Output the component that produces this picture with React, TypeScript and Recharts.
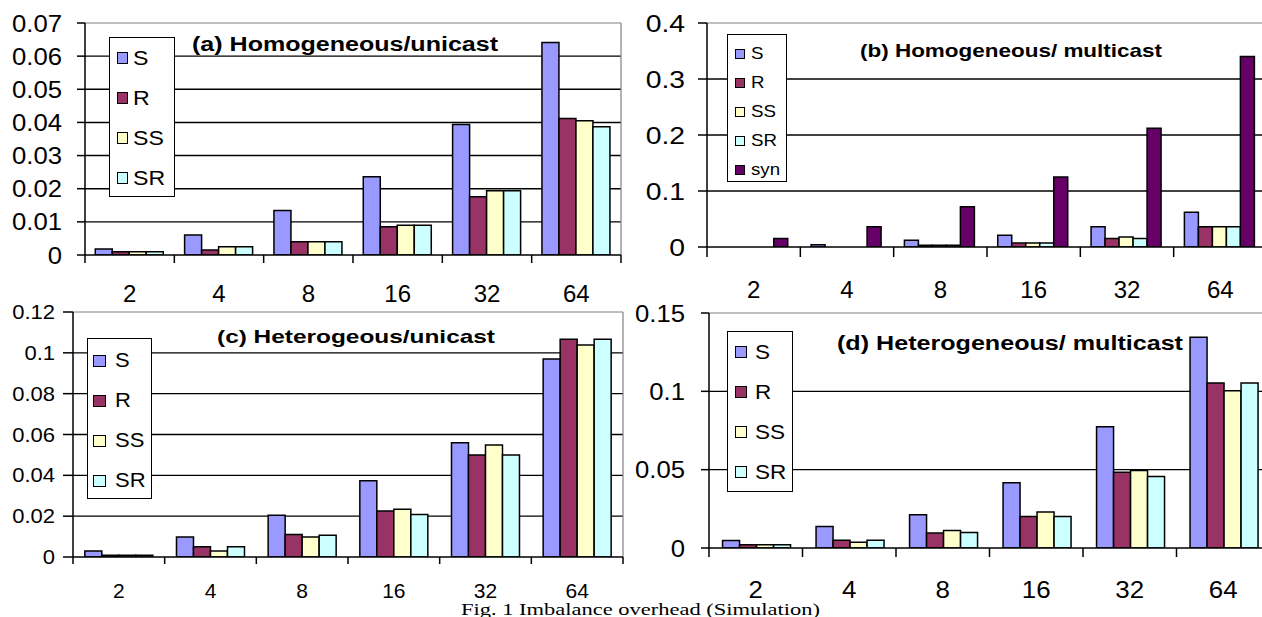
import React from 'react';
import { BarChart, Bar, XAxis, YAxis, CartesianGrid, Legend } from 'recharts';

// ---------- data ----------
const CATEGORIES = ['2', '4', '8', '16', '32', '64'];

// (a) Homogeneous/unicast
const A_S = [0.0018, 0.006, 0.0134, 0.0236, 0.0394, 0.0641];
const A_R = [0.001, 0.0015, 0.004, 0.0085, 0.0176, 0.0412];
const A_SS = [0.001, 0.0025, 0.004, 0.009, 0.0194, 0.0405];
const A_SR = [0.001, 0.0025, 0.004, 0.009, 0.0194, 0.0387];
const A_YTICKS = [0, 0.01, 0.02, 0.03, 0.04, 0.05, 0.06, 0.07];
const A_YLABELS = ['0', '0.01', '0.02', '0.03', '0.04', '0.05', '0.06', '0.07'];

// (b) Homogeneous/ multicast
const B_S = [0, 0.004, 0.012, 0.021, 0.036, 0.062];
const B_R = [0, 0, 0.003, 0.007, 0.015, 0.036];
const B_SS = [0, 0, 0.003, 0.007, 0.018, 0.036];
const B_SR = [0, 0, 0.003, 0.007, 0.015, 0.036];
const B_SYN = [0.015, 0.036, 0.072, 0.125, 0.212, 0.34];
const B_YTICKS = [0, 0.1, 0.2, 0.3, 0.4];
const B_YLABELS = ['0', '0.1', '0.2', '0.3', '0.4'];

// (c) Heterogeous/unicast
const C_S = [0.003, 0.0098, 0.0205, 0.0373, 0.056, 0.097];
const C_R = [0.0008, 0.005, 0.011, 0.0225, 0.05, 0.1067];
const C_SS = [0.0008, 0.003, 0.0098, 0.0234, 0.0548, 0.1038];
const C_SR = [0.0008, 0.005, 0.0106, 0.0208, 0.05, 0.1067];
const C_YTICKS = [0, 0.02, 0.04, 0.06, 0.08, 0.1, 0.12];
const C_YLABELS = ['0', '0.02', '0.04', '0.06', '0.08', '0.1', '0.12'];

// (d) Heterogeneous/ multicast
const D_S = [0.0048, 0.0137, 0.0212, 0.0417, 0.0774, 0.1346];
const D_R = [0.002, 0.005, 0.0095, 0.0201, 0.0483, 0.1053];
const D_SS = [0.002, 0.0036, 0.0112, 0.0229, 0.0495, 0.1003];
const D_SR = [0.002, 0.005, 0.0099, 0.0201, 0.0456, 0.1053];
const D_YTICKS = [0, 0.05, 0.1, 0.15];
const D_YLABELS = ['0', '0.05', '0.1', '0.15'];

const TITLES = [
  '(a) Homogeneous/unicast',
  '(b) Homogeneous/ multicast',
  '(c) Heterogeous/unicast',
  '(d) Heterogeneous/ multicast',
];
const CAPTION = 'Fig. 1 Imbalance overhead (Simulation)';

// ---------- styles ----------
const FONT = '"Liberation Sans", Arial, Helvetica, sans-serif';
const SERIF = '"Liberation Serif", "Times New Roman", serif';

const SERIES4 = [
  { key: 'S', name: 'S', color: '#9999FF' },
  { key: 'R', name: 'R', color: '#993366' },
  { key: 'SS', name: 'SS', color: '#FFFFCC' },
  { key: 'SR', name: 'SR', color: '#CCFFFF' },
];
const SERIES5 = [...SERIES4, { key: 'syn', name: 'syn', color: '#660066' }];

const rows4 = (s: number[], r: number[], ss: number[], sr: number[]) =>
  CATEGORIES.map((n, i) => ({ n, S: s[i], R: r[i], SS: ss[i], SR: sr[i] }));
const rows5 = (s: number[], r: number[], ss: number[], sr: number[], syn: number[]) =>
  CATEGORIES.map((n, i) => ({ n, S: s[i], R: r[i], SS: ss[i], SR: sr[i], syn: syn[i] }));

const PANELS = [
  {
    left: 0, top: 0, width: 640, height: 310,
    margin: { top: 23, right: 19, bottom: 0, left: 0 },
    yW: 85, xH: 55, gap: '11.5%',
    data: rows4(A_S, A_R, A_SS, A_SR), series: SERIES4,
    yTicks: A_YTICKS, yLabels: A_YLABELS,
    yTickSize: 8, yTickMargin: 15, yFs: 24, ySx: 1.07,
    xTick: 8, xMargin: 30, xFs: 24, xSx: 1.0,
    legend: { left: 109, top: 37, w: 66, h: 160, c0: 20, step: 40, swX: 7, swW: 11, swH: 12, txtX: 23, fs: 21, sx: 1.1 },
  },
  {
    left: 620, top: 0, width: 650, height: 310,
    margin: { top: 23, right: 3, bottom: 0, left: 0 },
    yW: 87, xH: 63, gap: '11.5%',
    data: rows5(B_S, B_R, B_SS, B_SR, B_SYN), series: SERIES5,
    yTicks: B_YTICKS, yLabels: B_YLABELS,
    yTickSize: 9, yTickMargin: 13, yFs: 24, ySx: 1.18,
    xTick: 10, xMargin: 34, xFs: 24, xSx: 1.0,
    legend: { left: 107, top: 34, w: 60, h: 148, c0: 19, step: 29, swX: 7, swW: 10, swH: 10, txtX: 23, fs: 17, sx: 1.1 },
  },
  {
    left: 0, top: 290, width: 640, height: 327,
    margin: { top: 22, right: 17, bottom: 0, left: 0 },
    yW: 73, xH: 60, gap: '12.9%',
    data: rows4(C_S, C_R, C_SS, C_SR), series: SERIES4,
    yTicks: C_YTICKS, yLabels: C_YLABELS,
    yTickSize: 10, yTickMargin: 8, yFs: 20, ySx: 1.1,
    xTick: 7, xMargin: 27, xFs: 20, xSx: 1.05,
    legend: { left: 87, top: 48, w: 65, h: 161, c0: 22, step: 40, swX: 5, swW: 13, swH: 12, txtX: 27, fs: 20, sx: 1.1 },
  },
  {
    left: 620, top: 290, width: 655, height: 327,
    margin: { top: 23, right: 5, bottom: 0, left: 0 },
    yW: 89, xH: 69, gap: '14.5%',
    data: rows4(D_S, D_R, D_SS, D_SR), series: SERIES4,
    yTicks: D_YTICKS, yLabels: D_YLABELS,
    yTickSize: 8, yTickMargin: 16, yFs: 24, ySx: 1.07,
    xTick: 9, xMargin: 33, xFs: 24, xSx: 1.08,
    legend: { left: 107, top: 41, w: 66, h: 161, c0: 20, step: 40, swX: 7, swW: 12, swH: 12, txtX: 27, fs: 21, sx: 1.07 },
  },
];

const TITLE_POS = [
  { x: 192, y: 51, len: 306, fs: 20 },
  { x: 860, y: 57, len: 302, fs: 19 },
  { x: 217, y: 343, len: 278, fs: 19 },
  { x: 837, y: 350, len: 346, fs: 20 },
];

type AnyProps = any;

function LegendBox({ lg, series }: AnyProps) {
  return (
    <div
      style={{
        position: 'relative', width: lg.w, height: lg.h, boxSizing: 'border-box',
        border: '1.5px solid #000', background: '#fff', fontFamily: FONT,
      }}
    >
      {series.map((s: AnyProps, i: number) => {
        const cy = lg.c0 + i * lg.step;
        return (
          <React.Fragment key={s.key}>
            <div
              style={{
                position: 'absolute', left: lg.swX, top: cy - lg.swH / 2, width: lg.swW, height: lg.swH,
                boxSizing: 'border-box', border: '1.5px solid #000', background: s.color,
              }}
            />
            <div
              style={{
                position: 'absolute', left: lg.txtX, top: cy - lg.fs * 0.58, fontSize: lg.fs, lineHeight: `${lg.fs * 1.15}px`,
                color: '#000', transform: `scaleX(${lg.sx})`, transformOrigin: 'left center', whiteSpace: 'nowrap',
              }}
            >
              {s.name}
            </div>
          </React.Fragment>
        );
      })}
    </div>
  );
}

function Panel({ p }: AnyProps) {
  const plotW = p.width - p.margin.left - p.margin.right - p.yW;
  const band = plotW / CATEGORIES.length;
  const ymax = p.yTicks[p.yTicks.length - 1];

  const YTick = (props: AnyProps) => {
    const { x, y, payload } = props;
    const i = p.yTicks.indexOf(payload.value);
    const label = i >= 0 ? p.yLabels[i] : String(payload.value);
    return (
      <text
        transform={`translate(${x},${y}) scale(${p.ySx},1)`}
        textAnchor="end" dy="0.355em" fontSize={p.yFs} fontFamily={FONT} fill="#000"
      >
        {label}
      </text>
    );
  };

  const XTick = (props: AnyProps) => {
    const { x, y, payload, index } = props;
    const axisY = y - p.xMargin;
    const half = band / 2;
    const last = index === CATEGORIES.length - 1;
    return (
      <g>
        <line x1={x - half} x2={x - half} y1={axisY} y2={axisY + p.xTick} stroke="#000" strokeWidth={1.5} />
        {last && <line x1={x + half} x2={x + half} y1={axisY} y2={axisY + p.xTick} stroke="#000" strokeWidth={1.5} />}
        <text
          transform={`translate(${x},${y}) scale(${p.xSx},1)`}
          textAnchor="middle" dy="0.71em" fontSize={p.xFs} fontFamily={FONT} fill="#000"
        >
          {payload.value}
        </text>
      </g>
    );
  };

  return (
    <div style={{ position: 'absolute', left: p.left, top: p.top }}>
      <BarChart
        width={p.width} height={p.height} data={p.data} margin={p.margin}
        barCategoryGap={p.gap} barGap={0}
      >
        <CartesianGrid vertical={false} horizontalValues={p.yTicks.slice(1, -1)} stroke="#000" strokeWidth={1.4} />
        <CartesianGrid
          horizontalValues={[ymax]}
          verticalCoordinatesGenerator={({ offset }: AnyProps) => [offset.left + offset.width]}
          stroke="#808080" strokeWidth={1.2}
        />
        <XAxis
          dataKey="n" height={p.xH} interval={0} tickSize={0} tickMargin={p.xMargin}
          tickLine={false} axisLine={{ stroke: '#000', strokeWidth: 1.5 }} tick={<XTick />}
        />
        <YAxis
          type="number" width={p.yW} domain={[0, ymax]} ticks={p.yTicks} interval={0}
          tickSize={p.yTickSize} tickMargin={p.yTickMargin} allowDataOverflow
          tickLine={{ stroke: '#000', strokeWidth: 1.5 }} axisLine={{ stroke: '#000', strokeWidth: 1.5 }}
          tick={<YTick />}
        />
        <Legend
          layout="vertical" align="center" verticalAlign="middle"
          wrapperStyle={{ left: p.legend.left, top: p.legend.top, width: 'auto', height: 'auto' }}
          content={() => <LegendBox lg={p.legend} series={p.series} />}
        />
        {p.series.map((s: AnyProps) => (
          <Bar
            key={s.key} dataKey={s.key} name={s.name} fill={s.color}
            stroke="#000" strokeWidth={1.5} isAnimationActive={false}
          />
        ))}
      </BarChart>
    </div>
  );
}

export default function App() {
  return (
    <div
      style={{
        position: 'absolute', left: 0, top: 0, width: 1262, height: 617,
        overflow: 'hidden', background: '#fff',
      }}
    >
      {PANELS.map((p, i) => (
        <Panel key={i} p={p} />
      ))}
      <svg
        width={1262} height={617}
        style={{ position: 'absolute', left: 0, top: 0, pointerEvents: 'none' }}
      >
        {TITLES.map((t, i) => (
          <text
            key={i} x={TITLE_POS[i].x} y={TITLE_POS[i].y} fontSize={TITLE_POS[i].fs}
            fontWeight="bold" fontFamily={FONT} fill="#000"
            textLength={TITLE_POS[i].len} lengthAdjust="spacingAndGlyphs"
          >
            {t}
          </text>
        ))}
        <text
          x={461} y={615} fontSize={16} fontFamily={SERIF} fill="#000"
          textLength={359} lengthAdjust="spacingAndGlyphs"
        >
          {CAPTION}
        </text>
      </svg>
    </div>
  );
}
